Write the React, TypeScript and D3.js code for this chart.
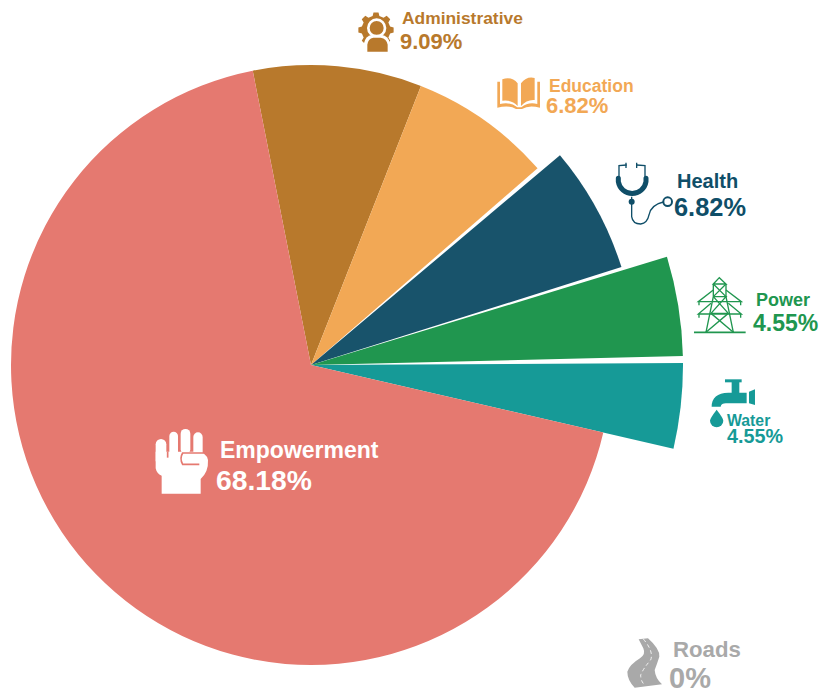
import React from "react";
import * as d3 from "d3";

const sectors = ["Administrative", "Education", "Health", "Power", "Water", "Empowerment", "Roads"];
const shares = ["9.09%", "6.82%", "6.82%", "4.55%", "4.55%", "68.18%", "0%"];
// slice sweeps in degrees
const sweeps = [32.7, 27.54, 23.46, 16.1, 14.4, 245.8, 0];
const colors = ["#B8792C", "#F2A855", "#18536B", "#20964F", "#169A97", "#E57970", "#A9A9A9"];
const outerRadii = [300, 300, 325.5, 372, 372, 300, 300];
const leadGaps = [0, 0, 0.85, 0.6, 1.1, 0, 0];
const textColors = ["#B8792C", "#F2A855", "#0F4E68", "#20964F", "#169A97", "#FFFFFF", "#A9A9A9"];
const nameLayout = [
  { x: 402, y: 24, s: 17.4 }, { x: 549, y: 92, s: 17.5 }, { x: 677, y: 188, s: 20 },
  { x: 756, y: 306, s: 18 }, { x: 727, y: 426, s: 15.8 }, { x: 220, y: 458, s: 23 }, { x: 673, y: 657, s: 22.2 },
];
const shareLayout = [
  { x: 400, y: 49, s: 22 }, { x: 546, y: 113, s: 22 }, { x: 674, y: 216, s: 25.4 },
  { x: 753, y: 331, s: 23 }, { x: 727, y: 443, s: 19.8 }, { x: 216, y: 490, s: 28.3 }, { x: 669, y: 688, s: 29 },
];
const cx = 311;
const cy = 365;

function gearPath(r0: number, r1: number, teeth: number) {
  const pts: string[] = [];
  const step = (Math.PI * 2) / teeth;
  for (let i = 0; i < teeth; i++) {
    const a = i * step;
    const pt = (ang: number, r: number) => `${r * Math.sin(ang)},${-r * Math.cos(ang)}`;
    pts.push(pt(a - step * 0.3, r0), pt(a - step * 0.18, r1), pt(a + step * 0.18, r1), pt(a + step * 0.3, r0));
  }
  return "M" + pts.join("L") + "Z";
}

function Icons() {
  const z = (x: number, y: number) => `translate(${x},${y}) scale(0.3333)`;
  return (
    <g>
      {/* Administrative */}
      <g transform="translate(376,30)">
        <path d={gearPath(14.5, 17.8, 8)} fill={colors[0]} />
      </g>
      <g transform={z(340, 0)}>
        <circle cx={110} cy={85} r={35} fill={colors[0]} />
        <circle cx={110} cy={84} r={25} fill="none" stroke="#fff" strokeWidth={8} />
        <path d="M72,158 L72,130 Q76,108 96,104 L124,104 Q146,108 150,130 L150,158 Z" fill="#fff" />
        <path d="M82,155 L82,134 Q84,116 100,113 L122,113 Q140,116 143,134 L143,155 Z" fill={colors[0]} />
      </g>
      {/* Education */}
      <g transform={z(340, 0)} fill={colors[1]}>
        <path d="M487,238 Q515,228 533,250 L533,318 Q515,298 487,302 Z" />
        <path d="M543,250 Q560,228 584,234 L584,300 Q560,298 543,318 Z" />
        <path d="M472,245 L480,245 L480,312 Q510,304 532,322 L544,322 Q566,304 592,312 L592,245 L600,245 L600,323 Q566,314 546,327 L528,327 Q508,314 472,323 Z" />
      </g>
      {/* Health */}
      <g transform={z(600, 150)} fill="none" stroke={textColors[2]}>
        <path d="M80,45 L57,47 L57,80 M110,45 L135,47 L135,80" strokeWidth={4} />
        <path d="M78,38 L78,54 M110,38 L110,54" strokeWidth={4} />
        <path d="M55,85 L55,95 A42,42 0 0 0 138,95 L138,85" strokeWidth={15} strokeLinecap="round" />
        <path d="M95,140 L95,200 Q98,222 122,222 Q142,220 147,195 Q152,165 190,156" strokeWidth={4} />
        <circle cx={95} cy={155} r={9} fill={textColors[2]} stroke="none" />
        <circle cx={203} cy={155} r={13} strokeWidth={6} />
      </g>
      {/* Power */}
      <g transform={z(600, 150)} fill="none" stroke={colors[3]} strokeWidth={4}>
        <path d="M282,547 L437,547" strokeWidth={5} />
        <path d="M340,402 L358,383 L378,402 Z M340,402 L340,440 L318,547 M378,402 L378,440 L400,547" />
        <path d="M340,402 L378,440 M378,402 L340,440 M340,440 L378,440 L333,490 L400,547 M340,440 L385,490 L318,547 M333,490 L385,490" />
        <path d="M340,420 L295,455 L424,455 L378,420 M333,460 L295,492 L424,492 L385,460" />
        <path d="M297,455 L297,466 M422,455 L422,466 M297,492 L297,503 M422,492 L422,503" />
      </g>
      {/* Water */}
      <g transform={z(600, 340)} fill={colors[4]}>
        <rect x={375} y={118} width={50} height={9} />
        <rect x={395} y={120} width={23} height={40} />
        <path d="M385,158 L440,158 L440,190 L378,190 Q364,190 362,200 L335,200 Q335,160 385,158 Z" />
        <path d="M447,155 L465,148 L465,195 L447,190 Z" />
        <path d="M350,209 Q330,235 330,242 A20,20 0 0 0 370,242 Q370,235 350,209 Z" />
      </g>
      {/* Empowerment */}
      <g transform={z(140, 415)} fill="#fff">
        <rect x={47} y={72} width={32} height={80} rx={16} />
        <rect x={88} y={50} width={26} height={75} rx={13} />
        <rect x={122} y={42} width={29} height={75} rx={14} />
        <rect x={160} y={52} width={28} height={75} rx={14} />
        <path d="M47,130 L47,160 Q50,176 65,182 L65,236 L182,236 L182,192 Q206,170 204,135 Q200,112 170,110 L47,110 Z" />
        <path d="M83,110 L83,128" stroke="#E57970" strokeWidth={5} fill="none" />
        <path d="M190,114 L128,114 Q118,130 128,148 L178,148" stroke="#E57970" strokeWidth={5} fill="none" />
      </g>
      {/* Roads */}
      <g transform={z(610, 625)}>
        <path d="M86,43 L114,40 Q150,72 148,95 Q140,120 134,135 Q136,160 156,178 L74,188 Q52,165 52,140 Q60,118 90,100 Q108,88 100,70 Z" fill={colors[6]} />
        <path d="M100,42 Q132,80 122,105 Q100,130 92,150 Q92,170 106,182" fill="none" stroke="#fff" strokeWidth={2.5} strokeDasharray="11 9" />
      </g>
    </g>
  );
}

export default function App() {
  const pie = d3
    .pie<number>()
    .sort(null)
    .value((d) => d)
    .startAngle((-11.2 * Math.PI) / 180)
    .endAngle((348.8 * Math.PI) / 180);
  const slices = pie(sweeps);
  const arc = d3.arc();
  return (
    <svg
      width={821}
      height={691}
      style={{ position: "absolute", left: 0, top: 0, display: "block", background: "#fff" }}
      fontFamily="'Liberation Sans', Arial, sans-serif"
      fontWeight={700}
    >
      <g transform={`translate(${cx},${cy})`}>
        {slices.map((s, i) =>
          sweeps[i] > 0 ? (
            <path
              key={sectors[i]}
              fill={colors[i]}
              d={
                arc({
                  innerRadius: 0,
                  outerRadius: outerRadii[i],
                  startAngle: s.startAngle + (leadGaps[i] * Math.PI) / 180,
                  endAngle: s.endAngle,
                }) as string
              }
            />
          ) : null
        )}
      </g>
      <Icons />
      {sectors.map((name, i) => (
        <g key={name} fill={textColors[i]}>
          <text x={nameLayout[i].x} y={nameLayout[i].y} fontSize={nameLayout[i].s}>{name}</text>
          <text x={shareLayout[i].x} y={shareLayout[i].y} fontSize={shareLayout[i].s}>{shares[i]}</text>
        </g>
      ))}
    </svg>
  );
}
